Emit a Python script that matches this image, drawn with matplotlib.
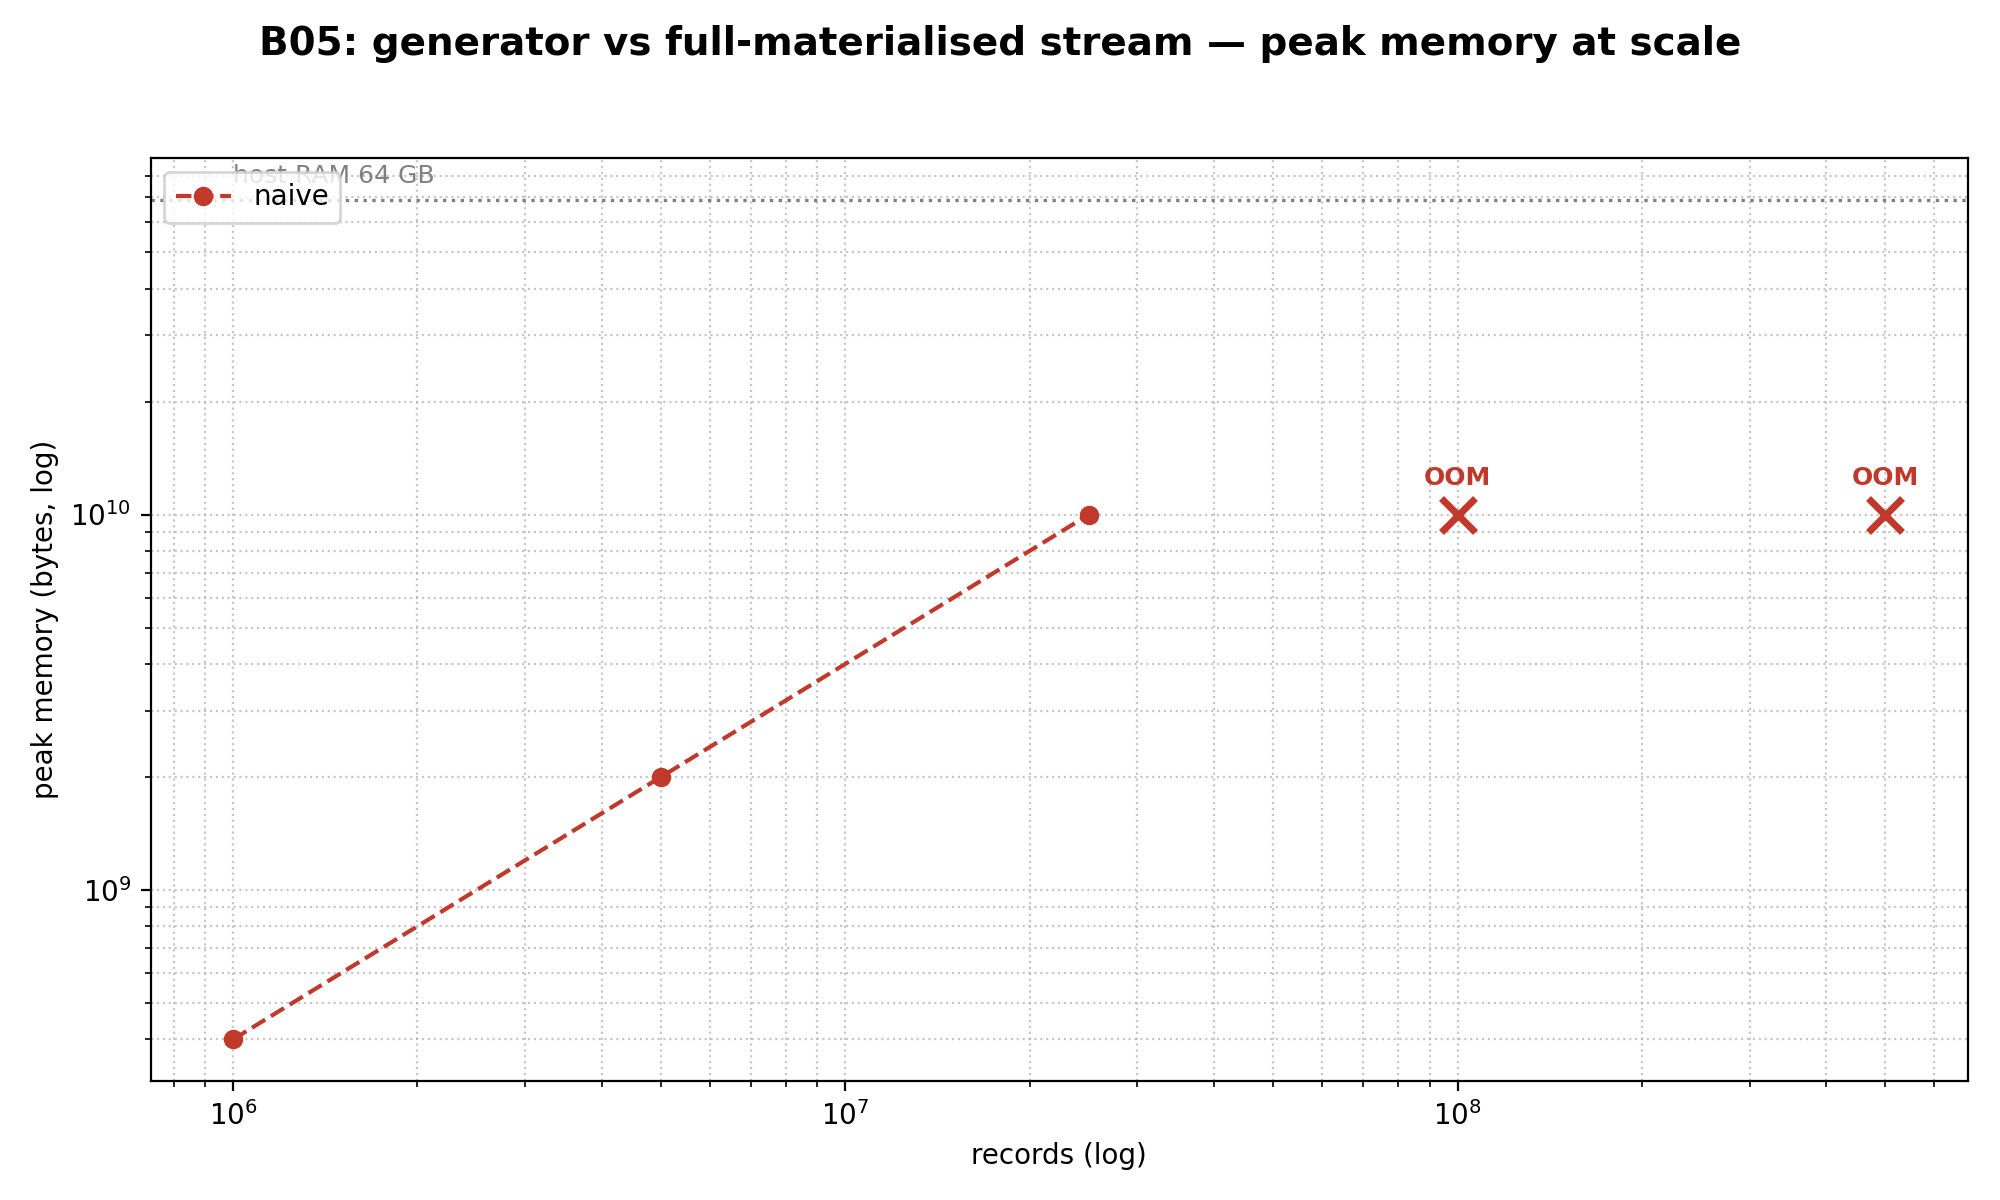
import matplotlib
matplotlib.use("Agg")
import matplotlib.pyplot as plt

# measured runs (naive / full-materialised stream)
records = [1e6, 5e6, 25e6]
peak_bytes = [4e8, 2e9, 1e10]

# runs that ran out of memory (plotted at a placeholder height)
oom_records = [1e8, 5e8]
oom_y = 1e10

host_ram = 64 * 2**30
red = "#c0392b"

fig, ax = plt.subplots(figsize=(10, 6), dpi=200)

ax.plot(records, peak_bytes, "o--", color=red, label="naive")
for x in oom_records:
    ax.plot([x], [oom_y], marker="x", color=red, markersize=12, markeredgewidth=2.5, linestyle="none")
    ax.annotate("OOM", (x, oom_y), xytext=(0, 9), textcoords="offset points",
                ha="center", va="bottom", color=red, fontsize=9, fontweight="bold")

ax.axhline(host_ram, color="gray", linestyle=":", linewidth=1.2)
ax.text(records[0], host_ram * 1.08, "host RAM 64 GB", color="gray", fontsize=9, va="bottom")

ax.set_xscale("log")
ax.set_yscale("log")
ax.set_xlabel("records (log)")
ax.set_ylabel("peak memory (bytes, log)")
ax.grid(True, which="both", linestyle=":", alpha=0.7)
ax.legend(loc="upper left")

fig.suptitle("B05: generator vs full-materialised stream — peak memory at scale",
             fontsize=14, fontweight="bold", y=0.979)
fig.subplots_adjust(left=0.0753, right=0.984, bottom=0.099, top=0.868)
fig.savefig("out.png")
